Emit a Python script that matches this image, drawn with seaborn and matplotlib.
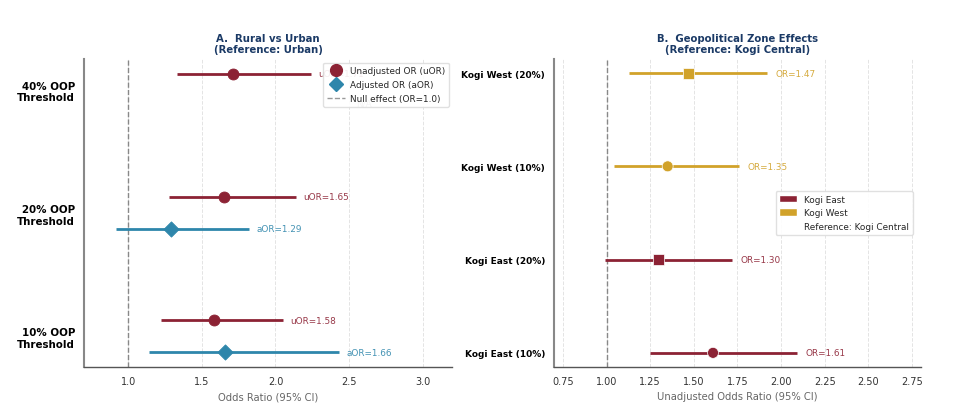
import numpy as np
import pandas as pd
import matplotlib
matplotlib.use("Agg")
import matplotlib.pyplot as plt
import seaborn as sns
from matplotlib.lines import Line2D
from matplotlib.patches import Patch

# ---------------- data ----------------
thresholds = ["10% OOP\nThreshold", "20% OOP\nThreshold", "40% OOP\nThreshold"]
u_or = [1.58, 1.65, 1.71]
u_lo = [1.22, 1.28, 1.33]
u_hi = [2.05, 2.14, 2.24]
a_or = [1.66, 1.29, np.nan]
a_lo = [1.14, 0.92, np.nan]
a_hi = [2.43, 1.82, np.nan]

zones = ["Kogi East (10%)", "Kogi East (20%)", "Kogi West (10%)", "Kogi West (20%)"]
zone_group = ["Kogi East", "Kogi East", "Kogi West", "Kogi West"]
zone_thr = ["10%", "20%", "10%", "20%"]
z_or = [1.61, 1.30, 1.35, 1.47]
z_lo = [1.25, 0.99, 1.04, 1.13]
z_hi = [2.09, 1.72, 1.76, 1.92]

RED = "#8C2234"
BLUE = "#2E86AB"
GOLD = "#D1A22A"
NAVY = "#1B3A66"

sns.set_style("white")
plt.rcParams["font.family"] = ["DejaVu Sans"]

fig = plt.figure(figsize=(9.54, 4.06), dpi=100)
axA = fig.add_axes([0.088, 0.094, 0.386, 0.758])
axB = fig.add_axes([0.581, 0.094, 0.384, 0.758])

ANN = 6.4
LEG = 6.4

# ---------------- Panel A ----------------
off = 0.13
yA = np.arange(len(thresholds))
dfu = pd.DataFrame({"y": yA + off, "or": u_or, "lo": u_lo, "hi": u_hi})
dfa = pd.DataFrame({"y": yA - off, "or": a_or, "lo": a_lo, "hi": a_hi}).dropna()

axA.grid(axis="x", linestyle="--", color="#dddddd", linewidth=0.7, alpha=0.8)
axA.set_axisbelow(True)
axA.axvline(1.0, color="#888888", linestyle="--", linewidth=1.0, zorder=1)
axA.hlines(dfu["y"], dfu["lo"], dfu["hi"], color=RED, linewidth=2, zorder=2)
axA.hlines(dfa["y"], dfa["lo"], dfa["hi"], color=BLUE, linewidth=2, zorder=2)
sns.scatterplot(data=dfu, x="or", y="y", ax=axA, color=RED, marker="o", s=62,
                edgecolor=RED, zorder=3, legend=False)
sns.scatterplot(data=dfa, x="or", y="y", ax=axA, color=BLUE, marker="D", s=60,
                edgecolor=BLUE, zorder=3, legend=False)
for _, r in dfu.iterrows():
    axA.text(r["hi"] + 0.05, r["y"], f"uOR={r['or']:.2f}", color=RED,
             va="center", ha="left", fontsize=ANN, alpha=0.9)
for _, r in dfa.iterrows():
    axA.text(r["hi"] + 0.05, r["y"], f"aOR={r['or']:.2f}", color=BLUE,
             va="center", ha="left", fontsize=ANN, alpha=0.9)
axA.text(2.55, 2 - off + 0.02, "N/A", color="#999999", va="center", ha="left", fontsize=ANN)

axA.set_xlim(0.7, 3.2)
axA.set_ylim(-0.25, 2.25)
axA.set_yticks(yA)
axA.set_yticklabels(thresholds, fontsize=7.4, fontweight="bold")
axA.set_xticks([1.0, 1.5, 2.0, 2.5, 3.0])
axA.tick_params(axis="x", labelsize=7, colors="#333333", length=3)
axA.tick_params(axis="y", length=3, colors="#333333", labelcolor="black")
axA.set_xlabel("Odds Ratio (95% CI)", fontsize=7.2, color="#666666")
axA.set_ylabel("")
axA.set_title("A.  Rural vs Urban\n(Reference: Urban)", fontsize=7.3, fontweight="bold",
              color=NAVY, linespacing=1.1, pad=5)

handlesA = [
    Line2D([0], [0], marker="o", color="w", markerfacecolor=RED, markeredgecolor=RED,
           markersize=8.5, linestyle="None", label="Unadjusted OR (uOR)"),
    Line2D([0], [0], marker="D", color="w", markerfacecolor=BLUE, markeredgecolor=BLUE,
           markersize=7.5, linestyle="None", label="Adjusted OR (aOR)"),
    Line2D([0], [0], color="#999999", linestyle="--", linewidth=1, label="Null effect (OR=1.0)"),
]
axA.legend(handles=handlesA, loc="upper right", fontsize=LEG, frameon=True,
           framealpha=0.9, edgecolor="#dddddd", handletextpad=0.6,
           borderpad=0.4, labelspacing=0.55, borderaxespad=0.4)

# ---------------- Panel B ----------------
yB = np.arange(len(zones))
dfz = pd.DataFrame({"y": yB, "or": z_or, "lo": z_lo, "hi": z_hi,
                    "zone": zone_group, "thr": zone_thr})
pal = {"Kogi East": RED, "Kogi West": GOLD}

axB.grid(axis="x", linestyle="--", color="#dddddd", linewidth=0.7, alpha=0.8)
axB.set_axisbelow(True)
axB.axvline(1.0, color="#888888", linestyle="--", linewidth=1.0, zorder=1)
for _, r in dfz.iterrows():
    axB.hlines(r["y"], r["lo"], r["hi"], color=pal[r["zone"]], linewidth=2, zorder=2)
sns.scatterplot(data=dfz, x="or", y="y", hue="zone", style="thr",
                markers={"10%": "o", "20%": "s"}, palette=pal, s=62,
                ax=axB, zorder=3, legend=False, linewidth=0.5)
for _, r in dfz.iterrows():
    axB.text(r["hi"] + 0.05, r["y"], f"OR={r['or']:.2f}", color=pal[r["zone"]],
             va="center", ha="left", fontsize=ANN, alpha=0.9)

axB.set_xlim(0.7, 2.8)
axB.set_ylim(-0.15, 3.15)
axB.set_yticks(yB)
axB.set_yticklabels(zones, fontsize=6.5, fontweight="bold")
xtB = [0.75, 1.00, 1.25, 1.50, 1.75, 2.00, 2.25, 2.50, 2.75]
axB.set_xticks(xtB)
axB.set_xticklabels([f"{v:.2f}" for v in xtB])
axB.tick_params(axis="x", labelsize=7, colors="#333333", length=3)
axB.tick_params(axis="y", length=3, colors="#333333", labelcolor="black")
axB.set_xlabel("Unadjusted Odds Ratio (95% CI)", fontsize=7.2, color="#666666")
axB.set_ylabel("")
axB.set_title("B.  Geopolitical Zone Effects\n(Reference: Kogi Central)", fontsize=7.3,
              fontweight="bold", color=NAVY, linespacing=1.1, pad=5)

handlesB = [
    Patch(facecolor=RED, label="Kogi East"),
    Patch(facecolor=GOLD, label="Kogi West"),
    Patch(facecolor="none", edgecolor="none", label="Reference: Kogi Central"),
]
axB.legend(handles=handlesB, loc="center right", fontsize=LEG, frameon=True,
           framealpha=0.9, edgecolor="#dddddd", borderpad=0.4, labelspacing=0.55,
           handleheight=1.0, bbox_to_anchor=(0.99, 0.5))

for ax in (axA, axB):
    sns.despine(ax=ax)
    ax.spines["bottom"].set_color("#555555")
    ax.spines["bottom"].set_linewidth(1.0)
    ax.spines["left"].set_color("#888888")
    ax.spines["left"].set_linewidth(1.5)

fig.savefig("out.png", dpi=100)
